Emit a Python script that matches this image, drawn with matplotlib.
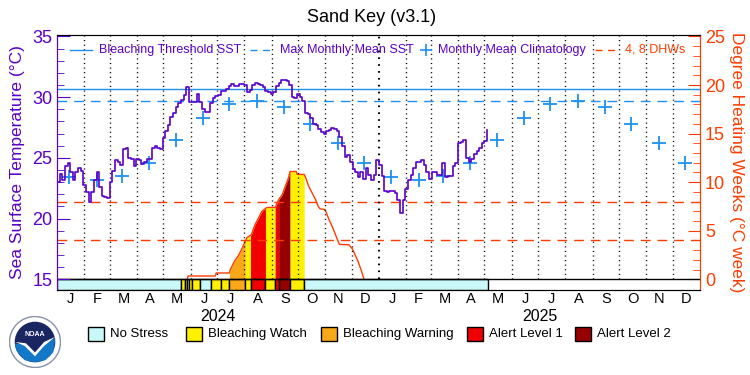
import numpy as np
import matplotlib.pyplot as plt
from matplotlib.patches import Rectangle, Circle, Polygon
from matplotlib.lines import Line2D

plt.rcParams['font.family'] = ['Liberation Sans', 'DejaVu Sans']

# daily SST, one value every 3 days from 2024-01-01
sst_step = 3
sst = [23.0, 23.7, 23.2, 24.3, 24.6, 23.8, 23.2, 23.8, 24.2, 23.9,
       22.8, 22.2, 21.4, 22.2, 23.2, 23.8, 22.6, 21.9, 21.8, 21.7,
       23.0, 23.9, 24.8, 24.7, 24.4, 25.7, 25.8, 25.0, 24.9, 24.3,
       24.9, 24.8, 24.5, 24.7, 24.9, 24.9, 25.8, 26.0, 25.8, 25.7,
       26.6, 27.2, 27.7, 28.4, 28.7, 29.2, 29.5, 29.8, 30.2, 30.8,
       29.6, 29.6, 29.6, 30.3, 29.6, 29.0, 28.8, 28.8, 29.5, 29.9,
       30.1, 30.2,
       30.5, 30.5, 30.65, 30.9, 31.1, 30.9, 30.9, 31.1, 31.1, 31.0,
       30.4, 30.6, 31.0, 31.2, 31.1, 31.0, 30.8, 30.5, 30.4, 30.3,
       30.4, 30.9, 31.2, 31.4, 31.4, 31.3, 31.0, 30.0, 29.9, 30.3,
       30.0, 29.7, 28.7, 28.6, 28.3, 27.8, 27.7, 27.4, 27.1, 27.0,
       27.2, 27.3, 27.5, 27.4, 27.2, 26.7, 26.0, 25.1, 25.2, 24.7,
       24.1, 23.8, 23.4, 23.8, 23.3, 24.2, 23.6, 23.2, 23.6, 24.8,
       24.4,
       23.5, 22.3, 22.2, 22.3, 22.3, 22.1, 21.5, 20.5, 21.5, 22.4,
       23.2, 23.6, 24.2, 24.7, 24.7, 24.8, 24.4, 23.8, 23.3, 23.8,
       23.8, 23.6, 23.6, 24.6, 23.4, 23.5, 23.5, 24.3, 24.6, 26.2,
       26.3, 26.5, 25.0, 24.7, 24.9, 25.3, 25.6, 25.8, 26.2, 26.4,
       27.3]

# monthly mean climatology (Jan..Dec)
clim = [23.4, 23.2, 23.5, 24.6, 26.5, 28.3, 29.4, 29.7, 29.15, 27.75, 26.2, 24.6]
mmm = 29.65
threshold = 30.65

# degree heating weeks (day since 2024-01-01, value)
dhw_day = [148, 149, 180, 181, 196, 197, 202, 206, 210, 214, 216, 221, 223, 225,
           229, 233, 237, 239, 248, 249, 252, 256, 260, 263, 265, 272, 273, 281,
           283, 286, 290, 294, 297, 299, 304, 306, 309, 311, 313, 317, 321, 332,
           336, 342, 346, 349]
dhw_val = [0.0, 0.34, 0.34, 0.65, 0.65, 1.0, 1.9, 2.4, 3.1, 3.9, 4.3, 4.6, 5.1, 5.6,
           6.3, 7.0, 7.3, 7.4, 7.4, 7.6, 8.2, 8.7, 9.7, 10.4, 11.1, 11.1, 10.8, 10.8,
           10.4, 9.6, 8.9, 8.2, 7.5, 7.25, 7.2, 6.9, 6.2, 5.8, 5.4, 4.5, 3.6, 3.55,
           3.1, 1.9, 0.9, 0.0]

# daily stress level: start day, end day, level (0 none .. 4 alert 2)
alert_start = [0, 141, 146, 148, 150, 154, 163, 175, 187, 196, 214, 220, 237, 248, 252, 265, 281]
alert_end = [141, 146, 148, 150, 154, 163, 175, 187, 196, 214, 220, 237, 248, 252, 265, 281, 490]
alert_level = [0, 1, 1, 0, 1, 1, 0, 1, 1, 2, 1, 3, 1, 3, 4, 1, 0]

level_names = ['No Stress', 'Bleaching Watch', 'Bleaching Warning', 'Alert Level 1', 'Alert Level 2']
level_colors = ['#c8f8f8', '#fff000', '#f8a818', '#f00000', '#960000']
month_letters = list('JFMAMJJASOND') * 2
years = ['2024', '2025']

purple = '#5a00c8'
blue = '#1e90f0'
orange_red = '#ff3c00'

fig = plt.figure(figsize=(7.5, 3.75), dpi=100)
L, R, T, B = 57, 700, 35, 290
ax = fig.add_axes([L / 750, 1 - B / 375, (R - L) / 750, (B - T) / 375])
ax2 = ax.twinx()
ax.set_zorder(2)
ax2.set_zorder(1)
ax.patch.set_visible(False)

dhw_lo, dhw_hi = -1.1, 25.15
ax2.set_ylim(dhw_lo, dhw_hi)
ax.set_ylim(15 + 0.8 * dhw_lo, 15 + 0.8 * dhw_hi)

months = np.arange('2024-01', '2026-02', dtype='datetime64[M]').astype('datetime64[D]')
mstart = (months - np.datetime64('2024-01-01')).astype(int)
ax.set_xlim(0, mstart[-1])

# fills under the DHW curve, coloured by stress level
days = np.arange(0, mstart[-1] + 1)
dhw_daily = np.interp(days, dhw_day, dhw_val, left=0, right=0)
for s, e, lv in zip(alert_start, alert_end, alert_level):
    if lv == 0:
        continue
    m = (days >= s) & (days <= e)
    if dhw_daily[m].max() < 1:
        continue
    ax2.fill_between(days[m], 0, dhw_daily[m], color=level_colors[lv], lw=0, zorder=1)

# stress strip
for s, e, lv in zip(alert_start, alert_end, alert_level):
    ax2.add_patch(Rectangle((s, dhw_lo), e - s, -dhw_lo, facecolor=level_colors[lv],
                            edgecolor='k', lw=1, zorder=3))
ax2.axhline(0, color='k', lw=1, zorder=3)

ax2.plot(dhw_day, dhw_val, color=orange_red, lw=1, zorder=2)
for lvl in (4, 8):
    ax2.axhline(lvl, color=orange_red, lw=1, dashes=(7, 5), zorder=4)

for d in mstart[1:-1]:
    lw = 1.5 if d == 366 else 1.0
    ax2.vlines(d, 0, dhw_hi, color='k', lw=lw, linestyles=(0, (0.8, 2.5)), zorder=4)

# SST
sst_days = np.arange(len(sst)) * sst_step
ax.plot(sst_days, sst, color=purple, lw=1.2, drawstyle='steps-post', zorder=5)
ax.axhline(threshold, color=blue, lw=1)
ax.axhline(mmm, color=blue, lw=1, dashes=(7, 5))
ax.plot(mstart[:-1] + 14, clim * 2, '+', color=blue, ms=10, mew=1.3, zorder=4)

# axes styling
for a in (ax, ax2):
    a.spines['left'].set_color(purple)
    a.spines['right'].set_color(orange_red)
ax.set_yticks([15, 20, 25, 30, 35])
ax.set_yticks(np.arange(15, 36), minor=True)
ax.tick_params(axis='y', which='both', direction='in', colors=purple, labelsize=13)
ax.tick_params(axis='y', which='major', length=9)
ax.tick_params(axis='y', which='minor', length=5)
ax2.set_yticks([0, 5, 10, 15, 20, 25])
ax2.set_yticks(np.arange(0, 26), minor=True)
ax2.tick_params(axis='y', which='both', direction='in', colors=orange_red, labelsize=13)
ax2.tick_params(axis='y', which='major', length=9)
ax2.tick_params(axis='y', which='minor', length=5)

ax.set_xticks((mstart[:-1] + mstart[1:]) / 2)
ax.set_xticklabels(month_letters, fontsize=10.5)
ax.tick_params(axis='x', length=0, pad=1.5)
for i, y in enumerate(years):
    ax.text((mstart[12 * i] + mstart[12 * i + 12]) / 2, -0.104, y, transform=ax.get_xaxis_transform(),
            ha='center', va='center', fontsize=11.5)

ax.set_ylabel('Sea Surface Temperature (°C)', color=purple, fontsize=12.5)
ax.yaxis.set_label_coords(-(L - 25) / (R - L), 0.5)
ax2.set_ylabel('Degree Heating Weeks (°C week)', color=orange_red, fontsize=12.5, rotation=270, va='center')
ax2.yaxis.set_label_coords((737 - L) / (R - L), 0.5)

fig.text(372 / 750, 1 - 18 / 375, 'Sand Key (v3.1)', ha='center', va='center', fontsize=13)


def fx(px):
    return px / 750


def fy(py):
    return 1 - py / 375


# top legend
ly = fy(50)
fig.add_artist(Line2D([fx(70), fx(92)], [ly, ly], color=blue, lw=1))
fig.text(fx(99), ly, 'Bleaching Threshold SST', color=purple, fontsize=9, va='center')
fig.add_artist(Line2D([fx(250), fx(273)], [ly, ly], color=blue, lw=1, dashes=(5, 4)))
fig.text(fx(280), ly, 'Max Monthly Mean SST', color=purple, fontsize=9, va='center')
fig.add_artist(Line2D([fx(426)], [ly], color=blue, marker='+', ms=8, mew=1.2, ls='none'))
fig.text(fx(438), ly, 'Monthly Mean Climatology', color=purple, fontsize=9, va='center')
fig.add_artist(Line2D([fx(595), fx(618)], [ly, ly], color=orange_red, lw=1, dashes=(5, 4)))
fig.text(fx(625), ly, '4, 8 DHWs', color=orange_red, fontsize=9, va='center')

# bottom legend
box_x = [88, 186, 321, 467, 575]
for bx, name, col in zip(box_x, level_names, level_colors):
    fig.add_artist(Rectangle((fx(bx), fy(341)), 16 / 750, 14 / 375, facecolor=col,
                             edgecolor='k', lw=1, transform=fig.transFigure))
    fig.text(fx(bx + 22), fy(334), name, fontsize=9.5, va='center')

# NOAA logo
lax = fig.add_axes([fx(9), fy(368), 52 / 750, 52 / 375])
lax.set_xlim(-1, 1)
lax.set_ylim(-1, 1)
lax.set_aspect('equal')
lax.axis('off')
lax.add_patch(Circle((0, 0), 0.98, facecolor='white', edgecolor='#8890a8', lw=1))
lax.add_patch(Circle((0, 0), 0.78, facecolor='#1a2660', edgecolor='none'))
lax.add_patch(Polygon([(-0.78, -0.05), (-0.4, -0.1), (0.0, -0.45), (0.3, -0.1), (0.78, 0.15),
                       (0.7, -0.4), (0.4, -0.7), (0, -0.78), (-0.4, -0.7), (-0.7, -0.35)],
                      facecolor='#1478c8', edgecolor='none'))
lax.add_patch(Polygon([(-0.75, 0.0), (-0.35, -0.05), (0.0, -0.4), (0.35, 0.0), (0.78, 0.2),
                       (0.35, -0.15), (0.0, -0.55), (-0.4, -0.15)], facecolor='white', edgecolor='none'))
lax.text(0, 0.3, 'NOAA', color='white', fontsize=5, ha='center', va='center', weight='bold')

fig.savefig('out.png', dpi=100)
